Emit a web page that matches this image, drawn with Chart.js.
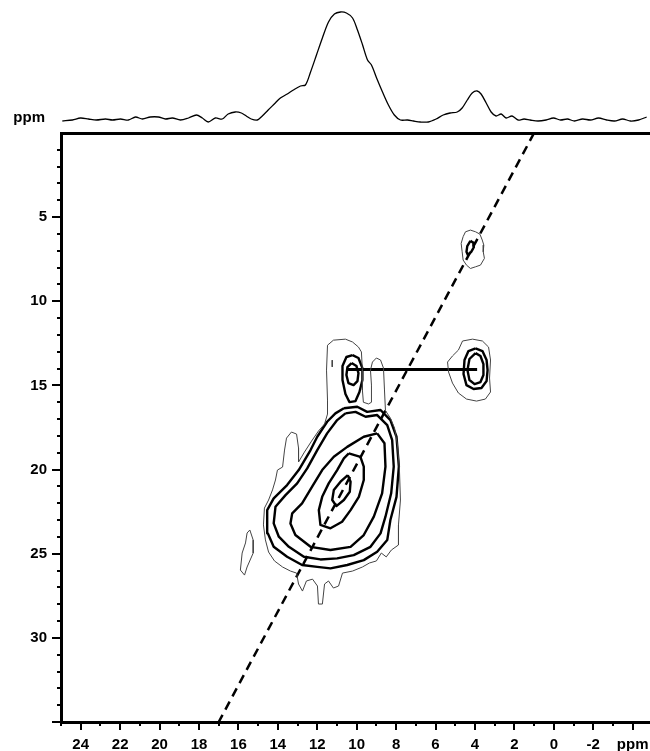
<!DOCTYPE html>
<html>
<head>
<meta charset="utf-8">
<script src="https://cdn.jsdelivr.net/npm/chart.js@4.4.1/dist/chart.umd.min.js"></script>
<style>
    body { margin: 0; background: #fff; }
    #wrap { position: relative; width: 650px; height: 751px; }
    canvas { position: absolute; left: 0; top: 0; }
</style>
</head>
<body>
<div id="wrap">
    <canvas id="map" width="650" height="751"></canvas>
    <canvas id="proj" width="650" height="133"></canvas>
</div>
<script>
// axis ranges (ppm)
const sqRange = [-4.88, 25];
const dqRange = [0, 35];

// 1D projection on top
const projectionPpm = [24.93, 24.42, 24.01, 23.61, 23.21, 22.74, 22.39, 21.98, 21.58, 21.22, 20.87, 20.47, 20.06, 19.70, 19.35, 18.94, 18.53, 18.13, 17.83, 17.53, 17.17, 16.82, 16.52, 16.16, 15.85, 15.60, 15.35, 15.04, 14.79, 14.49, 14.18, 13.87, 13.52, 13.21, 12.85, 12.60, 12.34, 12.04, 11.74, 11.43, 11.13, 10.82, 10.52, 10.21, 9.96, 9.70, 9.45, 9.25, 8.99, 8.69, 8.39, 8.09, 7.78, 7.42, 7.12, 6.77, 6.37, 5.97, 5.61, 5.26, 4.90, 4.65, 4.39, 4.14, 3.89, 3.69, 3.43, 3.18, 2.93, 2.67, 2.42, 2.12, 1.81, 1.51, 1.20, 0.80, 0.39, 0.02, -0.34, -0.69, -1.05, -1.46, -1.86, -2.27, -2.68, -3.08, -3.49, -3.89, -4.30, -4.71];
const projectionIntensity = [9, 10, 12, 11, 10, 11, 10, 11, 10, 13, 11, 13, 13, 11, 12, 10, 12, 15, 12, 8, 12, 11, 16, 18, 17, 14, 11, 10, 14, 20, 26, 32, 36, 40, 44, 45, 58, 75, 92, 108, 116, 118, 117, 112, 100, 85, 70, 65, 52, 38, 25, 15, 10, 10, 9, 8, 8, 11, 15, 17, 18, 22, 30, 37, 39, 36, 27, 18, 14, 16, 12, 14, 10, 11, 10, 9, 10, 12, 10, 11, 9, 11, 10, 12, 10, 9, 11, 9, 10, 13];

// contour outlines, [SQ ppm, DQ ppm]
const contourDiamond = [[10.45, 20.33], [10.31, 20.72], [10.35, 21.32], [10.65, 21.81], [11.03, 22.17], [11.24, 21.81], [11.16, 21.22], [10.82, 20.72]];
const contourCore = [[10.40, 19.04], [9.81, 19.24], [9.64, 19.83], [9.64, 20.62], [9.89, 21.62], [10.31, 22.41], [10.74, 23.10], [11.33, 23.49], [11.84, 23.29], [11.92, 22.41], [11.75, 21.62], [11.42, 20.82], [10.99, 20.03], [10.65, 19.33]];
const contourMid = [[8.96, 17.85], [8.59, 18.44], [8.54, 19.83], [8.71, 21.41], [9.13, 22.80], [9.64, 23.89], [10.31, 24.59], [11.33, 24.78], [12.34, 24.59], [13.11, 23.89], [13.36, 23.20], [13.27, 22.60], [12.77, 22.01], [12.26, 21.02], [11.75, 20.03], [11.16, 19.24], [10.48, 18.65], [9.64, 18.05]];
const contourOuterA = [[10.57, 16.66], [10.06, 16.57], [9.55, 16.86], [8.96, 16.76], [8.45, 17.36], [8.20, 18.25], [8.12, 19.83], [8.25, 21.41], [8.54, 22.80], [8.79, 23.79], [9.30, 24.59], [10.15, 25.08], [10.99, 25.28], [11.84, 25.34], [12.68, 25.18], [13.44, 24.59], [13.95, 23.99], [14.21, 23.20], [14.12, 22.21], [13.61, 21.52], [13.02, 20.82], [12.51, 19.93], [12.00, 18.84], [11.50, 17.85], [10.99, 17.06]];
const contourOuterB = [[10.65, 16.36], [9.97, 16.27], [9.47, 16.57], [8.79, 16.46], [8.29, 17.06], [7.98, 18.05], [7.86, 19.83], [7.98, 21.62], [8.29, 23.00], [8.45, 24.19], [8.96, 24.88], [9.64, 25.38], [10.48, 25.67], [11.33, 25.87], [12.00, 25.78], [12.77, 25.67], [13.53, 25.18], [14.21, 24.59], [14.51, 23.79], [14.54, 22.41], [14.21, 21.71], [13.53, 20.92], [12.94, 20.03], [12.34, 18.84], [12.00, 18.05], [11.50, 17.16], [11.08, 16.66]];
const contourEdge = [[11.48, 16.70], [11.48, 15.87], [11.53, 14.09], [11.48, 12.61], [11.18, 12.31], [10.57, 12.25], [10.21, 12.42], [9.91, 12.72], [9.76, 13.01], [9.71, 14.09], [9.71, 15.27], [9.66, 16.00], [9.40, 16.10], [9.25, 16.00], [9.25, 14.98], [9.30, 14.09], [9.20, 13.61], [9.00, 13.37], [8.79, 13.49], [8.64, 13.97], [8.59, 15.27], [8.54, 16.50], [8.29, 16.94], [8.08, 17.53], [7.93, 18.54], [7.83, 20.03], [7.78, 21.81], [7.88, 23.29], [7.88, 24.48], [8.24, 24.78], [8.50, 25.19], [8.75, 24.96], [9.00, 25.43], [9.35, 25.55], [9.71, 25.79], [10.21, 26.03], [10.72, 26.15], [10.92, 26.92], [11.18, 27.04], [11.43, 26.62], [11.63, 26.80], [11.74, 27.99], [11.94, 27.99], [11.99, 26.92], [12.24, 26.51], [12.55, 26.62], [12.75, 27.22], [12.95, 26.80], [13.05, 26.15], [13.36, 26.03], [13.76, 25.79], [14.17, 25.43], [14.47, 24.90], [14.63, 24.18], [14.73, 23.29], [14.68, 22.29], [14.47, 21.81], [14.27, 21.21], [14.12, 20.62], [14.02, 20.03], [13.76, 19.85], [13.66, 18.84], [13.56, 18.13], [13.31, 17.77], [13.05, 17.89], [12.95, 18.72], [12.95, 19.55], [12.65, 18.96], [12.29, 18.31], [11.94, 17.71], [11.63, 17.29]];
const crossLeftInner = [[10.26, 13.67], [10.01, 13.85], [9.91, 14.27], [9.96, 14.74], [10.16, 14.98], [10.42, 14.86], [10.52, 14.38], [10.47, 13.91]];
const crossLeftOuter = [[10.21, 13.20], [9.91, 13.37], [9.71, 13.97], [9.71, 14.68], [9.86, 15.39], [10.06, 15.93], [10.37, 15.99], [10.57, 15.51], [10.72, 14.68], [10.72, 13.85], [10.52, 13.31]];
const crossRightInner = [[3.97, 13.08], [3.72, 13.25], [3.57, 13.73], [3.57, 14.38], [3.72, 14.80], [4.02, 14.92], [4.28, 14.68], [4.38, 14.09], [4.28, 13.43]];
const crossRightMid = [[3.97, 12.80], [3.62, 12.96], [3.41, 13.49], [3.36, 14.09], [3.41, 14.74], [3.67, 15.15], [4.07, 15.21], [4.43, 14.98], [4.58, 14.32], [4.53, 13.49], [4.33, 12.96]];
const crossRightEdge = [[4.63, 12.36], [4.12, 12.25], [3.62, 12.36], [3.31, 12.72], [3.21, 13.49], [3.26, 14.56], [3.21, 15.39], [3.47, 15.81], [3.92, 15.93], [4.43, 15.81], [4.84, 15.45], [5.14, 14.86], [5.34, 14.20], [5.39, 13.61], [5.14, 13.25], [4.84, 12.90]];
const peakTopInner = [[4.23, 6.41], [4.09, 6.52], [4.06, 6.80], [4.19, 7.06], [4.36, 7.25], [4.43, 7.06], [4.39, 6.72]];
const peakTopEdge = [[4.48, 5.87], [4.23, 5.77], [3.97, 5.87], [3.75, 6.01], [3.63, 6.36], [3.55, 6.66], [3.58, 7.06], [3.52, 7.45], [3.72, 7.85], [3.97, 7.95], [4.23, 8.05], [4.43, 7.85], [4.60, 7.55], [4.65, 7.06], [4.70, 6.56], [4.60, 6.16]];
const peakSideEdge = [[15.42, 23.59], [15.25, 24.19], [15.25, 24.96], [15.56, 25.79], [15.69, 26.27], [15.90, 25.97], [15.81, 24.96], [15.64, 24.36], [15.56, 23.77]];
const markTick = [[11.24, 13.50], [11.24, 13.90]];

// DQ diagonal and the correlation link
const diagonalLine = [[1, 0], [17, 35]];
const linkLine = [[10.48, 14.05], [3.89, 14.05]];

const labelFont = { family: '"Liberation Sans", Arial, sans-serif', size: 15, weight: 'bold' };
Chart.defaults.font.family = labelFont.family;
Chart.defaults.color = '#000';

function toPoints(pairs, closed) {
    const pts = pairs.map(p => ({ x: p[0], y: p[1] }));
    if (closed) pts.push({ x: pairs[0][0], y: pairs[0][1] });
    return pts;
}

function contour(pairs, thick) {
    return {
        data: toPoints(pairs, true),
        showLine: true,
        borderColor: thick ? '#000' : '#444',
        borderWidth: thick ? 2.4 : 1,
        borderJoinStyle: 'round',
        pointRadius: 0,
        tension: 0
    };
}

// one tick per ppm, whatever the range ends are
function integerTicks(scale) {
    const ticks = [];
    for (let v = Math.ceil(scale.min); v <= Math.floor(scale.max); v++) ticks.push({ value: v });
    scale.ticks = ticks;
}

function noPadding(scale) {
    scale.paddingLeft = 0;
    scale.paddingRight = 0;
    scale.paddingTop = 0;
    scale.paddingBottom = 0;
}

// minor/major tick marks on the frame
const frameTicks = {
    id: 'frameTicks',
    afterDraw(chart) {
        const ctx = chart.ctx;
        const xs = chart.scales.x;
        const ys = chart.scales.y;
        const area = chart.chartArea;
        ctx.save();
        ctx.strokeStyle = '#000';
        ctx.lineWidth = 2;
        ctx.beginPath();
        for (let v = Math.ceil(xs.min); v <= Math.floor(xs.max); v++) {
            const px = Math.round(xs.getPixelForValue(v));
            const len = v % 2 === 0 ? 8 : 4;
            ctx.moveTo(px, area.bottom);
            ctx.lineTo(px, area.bottom + len);
        }
        for (let v = Math.ceil(ys.min) + 1; v <= Math.floor(ys.max); v++) {
            const py = Math.round(ys.getPixelForValue(v));
            const len = v % 5 === 0 ? 9 : 4;
            ctx.moveTo(area.left, py);
            ctx.lineTo(area.left - len, py);
        }
        ctx.stroke();
        ctx.restore();
    }
};

const datasets = [
    contour(contourEdge, false),
    contour(contourOuterB, true),
    contour(contourOuterA, true),
    contour(contourMid, true),
    contour(contourCore, true),
    contour(contourDiamond, true),
    contour(crossLeftOuter, true),
    contour(crossLeftInner, true),
    contour(crossRightEdge, false),
    contour(crossRightMid, true),
    contour(crossRightInner, true),
    contour(peakTopEdge, false),
    contour(peakTopInner, true),
    contour(peakSideEdge, false),
    {
        data: toPoints(markTick, false),
        showLine: true, borderColor: '#444', borderWidth: 1, pointRadius: 0
    },
    {
        data: toPoints(linkLine, false),
        showLine: true, borderColor: '#000', borderWidth: 3, pointRadius: 0
    },
    {
        data: toPoints(diagonalLine, false),
        showLine: true, borderColor: '#000', borderWidth: 2.5,
        borderDash: [9, 6], pointRadius: 0
    }
];

new Chart(document.getElementById('map'), {
    type: 'scatter',
    data: { datasets: datasets },
    options: {
        responsive: false,
        animation: false,
        layout: { padding: { top: 133, left: 0, right: 0, bottom: 0 } },
        plugins: { legend: { display: false }, tooltip: { enabled: false } },
        scales: {
            x: {
                type: 'linear',
                position: 'bottom',
                reverse: true,
                min: sqRange[0],
                max: sqRange[1],
                afterBuildTicks: integerTicks,
                afterFit: s => { s.height = 29; noPadding(s); },
                grid: { drawOnChartArea: false, drawTicks: false },
                border: { display: true, width: 3, color: '#000' },
                ticks: {
                    autoSkip: false,
                    maxRotation: 0,
                    padding: 14,
                    font: labelFont,
                    callback: v => {
                        if (v === -4) return 'ppm';
                        return v % 2 === 0 ? String(v) : '';
                    }
                }
            },
            xTop: {
                type: 'linear',
                position: 'top',
                reverse: true,
                min: sqRange[0],
                max: sqRange[1],
                afterFit: s => { s.height = 0; noPadding(s); },
                grid: { drawOnChartArea: false, drawTicks: false },
                border: { display: true, width: 3, color: '#000' },
                ticks: { display: false }
            },
            y: {
                type: 'linear',
                position: 'left',
                reverse: true,
                min: dqRange[0],
                max: dqRange[1],
                afterBuildTicks: integerTicks,
                afterFit: s => { s.width = 61; noPadding(s); },
                grid: { drawOnChartArea: false, drawTicks: false },
                border: { display: true, width: 3, color: '#000' },
                ticks: {
                    autoSkip: false,
                    padding: 14,
                    font: labelFont,
                    callback: v => (v > 0 && v < 35 && v % 5 === 0 ? String(v) : '')
                }
            }
        }
    },
    plugins: [frameTicks]
});

// "ppm" caption next to the projection baseline
const projCaption = {
    id: 'projCaption',
    afterDraw(chart) {
        const ctx = chart.ctx;
        ctx.save();
        ctx.font = 'bold 15px "Liberation Sans", Arial, sans-serif';
        ctx.fillStyle = '#000';
        ctx.textAlign = 'right';
        ctx.textBaseline = 'middle';
        ctx.fillText('ppm', 45, chart.scales.y.getPixelForValue(12));
        ctx.restore();
    }
};

new Chart(document.getElementById('proj'), {
    type: 'scatter',
    data: {
        datasets: [{
            data: projectionPpm.map((p, i) => ({ x: p, y: projectionIntensity[i] })),
            showLine: true,
            borderColor: '#000',
            borderWidth: 1.3,
            pointRadius: 0,
            tension: 0.3
        }]
    },
    options: {
        responsive: false,
        animation: false,
        layout: { padding: { top: 0, left: 61, right: 0, bottom: 0 } },
        plugins: { legend: { display: false }, tooltip: { enabled: false } },
        scales: {
            x: { type: 'linear', reverse: true, min: sqRange[0], max: sqRange[1], display: false },
            y: { type: 'linear', min: -3, max: 130, display: false }
        }
    },
    plugins: [projCaption]
});
</script>
</body>
</html>
